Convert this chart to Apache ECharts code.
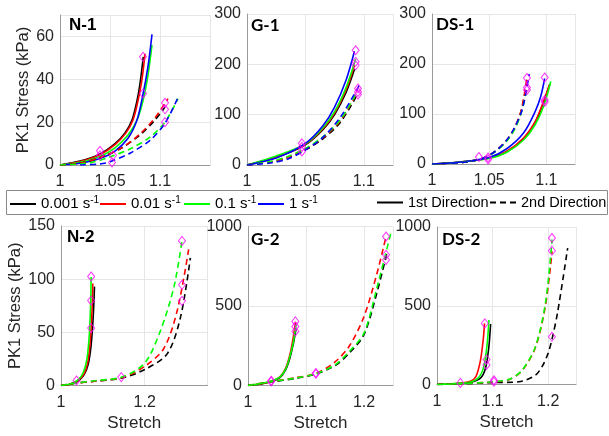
<!DOCTYPE html>
<html><head><meta charset="utf-8">
<script src="https://cdn.jsdelivr.net/npm/echarts@6/dist/echarts.min.js"></script>
<style>html,body{margin:0;padding:0;background:#fff}#c{width:609px;height:436px}</style>
</head><body><div id="c"></div>
<script>
// ---------- DATA (stretch, PK1 stress kPa) ----------
const rates = ['0.001', '0.01', '0.1', '1'];
const directions = ['1st Direction', '2nd Direction'];
const panelTitles = ['N-1', 'G-1', 'DS-1', 'N-2', 'G-2', 'DS-2'];

// N-1
const n1_1st_0001 = [[1,0],[1.02,1.8],[1.04,5.2],[1.055,10],[1.065,15],[1.072,21],[1.077,30],[1.08,38],[1.0833,50.5]];
const n1_1st_001  = [[1,0],[1.02,1.6],[1.04,4.8],[1.055,9.5],[1.066,15],[1.073,21],[1.078,30],[1.082,40],[1.085,52]];
const n1_1st_01   = [[1,0],[1.02,1.3],[1.04,4],[1.055,8],[1.068,14],[1.077,21],[1.083,30],[1.088,42],[1.092,56]];
const n1_1st_1    = [[1,0],[1.02,0.8],[1.04,3],[1.055,6.5],[1.068,12.5],[1.077,21],[1.083,33],[1.088,46],[1.092,61]];
const n1_2nd_0001 = [[1,0],[1.02,0.8],[1.04,3.5],[1.06,7.5],[1.08,14],[1.095,21],[1.105,27]];
const n1_2nd_001  = [[1,0],[1.02,0.8],[1.04,3.5],[1.06,7.5],[1.08,14.5],[1.095,22],[1.108,31]];
const n1_2nd_01   = [[1,0],[1.03,1],[1.05,3.8],[1.07,7.5],[1.09,13],[1.105,20],[1.118,31]];
const n1_2nd_1    = [[1.02,0],[1.04,0.5],[1.05,1.5],[1.07,5.5],[1.09,11.5],[1.105,19.5],[1.119,32.5]];
const n1_marks    = [[1.04,6.6],[1.04,4.5],[1.053,4.5],[1.052,1.2],[1.083,50.5],[1.083,33.4],[1.105,29],[1.105,26],[1.105,20]];

// G-1
const g1_1st_0001 = [[1,0],[1.025,15],[1.05,40],[1.065,70],[1.075,100],[1.085,145],[1.092,190]];
const g1_1st_001  = [[1,0],[1.025,16],[1.05,41],[1.065,72],[1.075,103],[1.085,150],[1.092,198]];
const g1_1st_01   = [[1,0],[1.025,18],[1.05,42],[1.065,74],[1.075,106],[1.085,155],[1.093,210]];
const g1_1st_1    = [[1,0],[1.025,14],[1.05,43],[1.065,78],[1.075,115],[1.085,170],[1.092,226]];
const g1_2nd_0001 = [[1,0],[1.02,6],[1.035,15],[1.05,30],[1.065,52],[1.08,85],[1.094,138]];
const g1_2nd_001  = [[1,0],[1.02,6],[1.035,15],[1.05,31],[1.065,54],[1.08,88],[1.094,143]];
const g1_2nd_01   = [[1,0],[1.02,7],[1.035,17],[1.05,33],[1.065,56],[1.08,90],[1.095,148]];
const g1_2nd_1    = [[1,0],[1.02,4],[1.035,12],[1.05,30],[1.065,55],[1.08,95],[1.097,162]];
const g1_marks    = [[1.047,43],[1.047,36],[1.047,27],[1.093,228],[1.093,205],[1.093,198],[1.095,152],[1.095,145],[1.095,140]];

// DS-1
const ds1_1st_0001 = [[1,0],[1.025,4],[1.05,12],[1.065,24],[1.08,50],[1.09,82],[1.097,120],[1.103,160]];
const ds1_1st_001  = [[1,0],[1.025,4],[1.05,12],[1.065,25],[1.08,52],[1.09,84],[1.097,122],[1.1026,158]];
const ds1_1st_01   = [[1,0],[1.025,4],[1.05,11],[1.065,23],[1.08,48],[1.09,78],[1.098,118],[1.1038,165]];
const ds1_1st_1    = [[1,0],[1.025,4],[1.05,13],[1.065,30],[1.08,62],[1.09,104],[1.095,135],[1.0985,171]];
const ds1_2nd_0001 = [[1,0],[1.03,4],[1.045,12],[1.055,25],[1.065,46],[1.072,70],[1.078,105],[1.083,165]];
const ds1_2nd_001  = [[1,0],[1.03,4],[1.045,12],[1.055,25],[1.065,47],[1.072,72],[1.078,108],[1.083,172]];
const ds1_2nd_01   = [[1,0],[1.03,4],[1.045,12],[1.055,24],[1.065,45],[1.072,68],[1.078,102],[1.083,150]];
const ds1_2nd_1    = [[1,0],[1.03,4],[1.045,12],[1.055,25],[1.065,47],[1.072,72],[1.079,110],[1.085,180]];
const ds1_marks    = [[1.041,14],[1.049,13],[1.049,9],[1.083,172],[1.083,153],[1.083,148],[1.0985,173],[1.0985,128],[1.0985,124]];

// N-2
const n2_1st_0001 = [[1,0],[1.02,1],[1.04,4],[1.055,10],[1.065,20],[1.072,38],[1.077,65],[1.08,93]];
const n2_1st_001  = [[1,0],[1.02,1],[1.04,4.5],[1.055,11],[1.064,22],[1.07,42],[1.074,70],[1.076,96]];
const n2_1st_01   = [[1,0],[1.02,1.2],[1.04,5],[1.053,12],[1.062,25],[1.068,50],[1.071,80],[1.072,102]];
const n2_2nd_0001 = [[1,0],[1.03,2],[1.08,4],[1.146,7],[1.2,15],[1.254,30],[1.286,65],[1.309,120]];
const n2_2nd_001  = [[1,0],[1.03,2],[1.08,4],[1.146,7.5],[1.2,18],[1.246,35],[1.278,71],[1.305,128]];
const n2_2nd_01   = [[1,0],[1.03,2],[1.08,4.5],[1.146,8],[1.2,21],[1.238,52],[1.27,93],[1.289,136]];
const n2_marks    = [[1.037,4.7],[1.072,102.5],[1.072,80],[1.072,54],[1.144,7.9],[1.289,136],[1.289,94.7],[1.289,79.6]];

// G-2
const g2_1st_0001 = [[1,0],[1.02,8],[1.04,25],[1.055,50],[1.065,100],[1.072,170],[1.078,260],[1.083,360]];
const g2_1st_001  = [[1,0],[1.02,9],[1.04,27],[1.055,55],[1.065,110],[1.072,190],[1.077,280],[1.082,400]];
const g2_1st_01   = [[1,0],[1.02,10],[1.04,28],[1.055,52],[1.065,105],[1.072,180],[1.078,270],[1.083,385]];
const g2_2nd_0001 = [[1,0],[1.04,22],[1.08,44],[1.117,72],[1.15,125],[1.175,205],[1.2,320],[1.222,580],[1.24,840]];
const g2_2nd_001  = [[1,0],[1.04,24],[1.08,48],[1.117,76],[1.15,148],[1.175,250],[1.2,434],[1.222,700],[1.238,937]];
const g2_2nd_01   = [[1,0],[1.04,24],[1.08,46],[1.117,74],[1.15,130],[1.175,215],[1.2,329],[1.222,610],[1.247,970]];
const g2_marks    = [[1.04,25],[1.04,30],[1.0816,403],[1.0816,371],[1.0816,340],[1.117,74],[1.117,79],[1.238,937],[1.238,822],[1.238,790]];

// DS-2
const ds2_1st_0001 = [[1,0],[1.04,6],[1.06,13],[1.078,40],[1.087,100],[1.093,230],[1.0964,384]];
const ds2_1st_001  = [[1,0],[1.04,8],[1.06,20],[1.07,50],[1.078,150],[1.083,280],[1.0855,388]];
const ds2_1st_01   = [[1,0],[1.04,7],[1.06,15],[1.075,45],[1.084,112],[1.09,250],[1.0934,410]];
const ds2_2nd_0001 = [[1,0],[1.05,5],[1.1,12],[1.147,17],[1.177,59],[1.19,120],[1.2,200],[1.207,290],[1.217,460],[1.235,866]];
const ds2_2nd_001  = [[1,0],[1.05,6],[1.1,16],[1.13,32],[1.153,88],[1.177,235],[1.195,500],[1.207,845]];
const ds2_2nd_01   = [[1,0],[1.05,6],[1.1,17],[1.13,33],[1.153,91],[1.177,240],[1.195,516],[1.207,920]];
const ds2_marks    = [[1.042,10],[1.086,388],[1.089,159],[1.089,124],[1.1024,17],[1.1024,27],[1.2067,930],[1.2067,849],[1.2067,303]];

// axis ranges / ticks
const xMin = [1, 1, 1, 1, 1, 1];
const xMax = [1.15, 1.125, 1.125, 1.35, 1.25, 1.25];
const xStep = [0.05, 0.05, 0.05, 0.2, 0.1, 0.1];
const yMax = [70, 300, 300, 150, 1000, 1000];
const yStep = [20, 100, 100, 50, 500, 500];

// ---------- build ----------
const rateColors = ['#000000', '#ff0000', '#00ff00', '#0000ff'];
const panels = [
  { first: [n1_1st_0001, n1_1st_001, n1_1st_01, n1_1st_1], second: [n1_2nd_0001, n1_2nd_001, n1_2nd_01, n1_2nd_1], marks: n1_marks },
  { first: [g1_1st_0001, g1_1st_001, g1_1st_01, g1_1st_1], second: [g1_2nd_0001, g1_2nd_001, g1_2nd_01, g1_2nd_1], marks: g1_marks },
  { first: [ds1_1st_0001, ds1_1st_001, ds1_1st_01, ds1_1st_1], second: [ds1_2nd_0001, ds1_2nd_001, ds1_2nd_01, ds1_2nd_1], marks: ds1_marks },
  { first: [n2_1st_0001, n2_1st_001, n2_1st_01], second: [n2_2nd_0001, n2_2nd_001, n2_2nd_01], marks: n2_marks },
  { first: [g2_1st_0001, g2_1st_001, g2_1st_01], second: [g2_2nd_0001, g2_2nd_001, g2_2nd_01], marks: g2_marks },
  { first: [ds2_1st_0001, ds2_1st_001, ds2_1st_01], second: [ds2_2nd_0001, ds2_2nd_001, ds2_2nd_01], marks: ds2_marks }
];
const gridBoxes = [
  { left: 60, top: 15, width: 150, height: 150 },
  { left: 247, top: 14, width: 146, height: 151 },
  { left: 432, top: 14, width: 143, height: 150 },
  { left: 61, top: 226, width: 146.5, height: 159.5 },
  { left: 248, top: 226.5, width: 145, height: 159 },
  { left: 437, top: 227, width: 139, height: 157.5 }
];
const titlePos = [[69, 17], [251, 17], [436, 16], [67, 229], [251, 231], [442, 231]];

const FONT = "'Liberation Sans', Arial, sans-serif";
const LINE_W = 1.6;
const series = [];
panels.forEach((p, gi) => {
  p.first.forEach((d, ri) => series.push({
    type: 'line', name: rates[ri], xAxisIndex: gi, yAxisIndex: gi, data: d,
    smooth: 0.3, symbol: 'none', showSymbol: false,
    lineStyle: { color: rateColors[ri], width: LINE_W }, itemStyle: { color: rateColors[ri] }, z: 3
  }));
});
panels.forEach((p, gi) => {
  p.second.forEach((d, ri) => series.push({
    type: 'line', name: rates[ri], xAxisIndex: gi, yAxisIndex: gi, data: d,
    smooth: 0.3, symbol: 'none', showSymbol: false,
    lineStyle: { color: rateColors[ri], width: LINE_W, type: [6, 4] }, itemStyle: { color: rateColors[ri] }, z: 3
  }));
  series.push({
    type: 'scatter', name: 'marks' + gi, xAxisIndex: gi, yAxisIndex: gi, data: p.marks,
    symbol: 'diamond', symbolSize: [7, 9],
    itemStyle: { color: 'rgba(0,0,0,0)', borderColor: '#ff00ff', borderWidth: 1 }, z: 5
  });
});
series.push({ type: 'line', name: directions[0], xAxisIndex: 0, yAxisIndex: 0, data: [], symbol: 'none',
  lineStyle: { color: '#000', width: LINE_W }, itemStyle: { color: '#000' } });
series.push({ type: 'line', name: directions[1], xAxisIndex: 0, yAxisIndex: 0, data: [], symbol: 'none',
  lineStyle: { color: '#000', width: LINE_W, type: [5, 4] }, itemStyle: { color: '#000' } });

const xAxes = gridBoxes.map((b, i) => ({
  type: 'value', gridIndex: i, min: xMin[i], max: xMax[i], interval: xStep[i],
  axisLine: { onZero: false, lineStyle: { color: '#999999', width: 1 } },
  axisTick: { show: false },
  axisLabel: { color: '#262626', fontSize: 16, fontFamily: FONT, margin: 9, showMaxLabel: false,
    formatter: v => String(+v.toFixed(4)) },
  splitLine: { show: true, lineStyle: { color: '#e6e6e6', width: 1 } },
  name: i >= 3 ? 'Stretch' : '', nameLocation: 'middle', nameGap: 29,
  nameTextStyle: { color: '#262626', fontSize: 17, fontFamily: FONT }
}));
const yAxes = gridBoxes.map((b, i) => ({
  type: 'value', gridIndex: i, min: 0, max: yMax[i], interval: yStep[i],
  axisLine: { onZero: false, lineStyle: { color: '#999999', width: 1 } },
  axisTick: { show: false },
  axisLabel: { color: '#262626', fontSize: 16, fontFamily: FONT, margin: 6,
    showMaxLabel: yMax[i] % yStep[i] === 0, formatter: v => String(v) },
  splitLine: { show: true, lineStyle: { color: '#e6e6e6', width: 1 } },
  name: (i === 0 || i === 3) ? 'PK1 Stress (kPa)' : '', nameLocation: 'middle',
  nameGap: i === 0 ? 13 : 21,
  nameTextStyle: { color: '#262626', fontSize: 16.5, fontFamily: FONT }
}));

const legendText = {
  color: '#000', fontSize: 15, fontFamily: FONT,
  rich: {
    t: { fontSize: 15, fontFamily: FONT, color: '#000' },
    s: { fontSize: 10, fontFamily: FONT, color: '#000', padding: [0, 0, 8, 0] }
  }
};
const dirText = { color: '#000', fontSize: 14.5, fontFamily: FONT };
const solidIcon = 'path://M0,0h26v2h-26z';
const dashIcon = 'path://M0,0h6v2h-6z M10,0h6v2h-6z M20,0h6v2h-6z';
const legendLeft = [10, 100, 184, 258, 377, 490];
const legendItems = rates.concat(directions);
const legends = legendItems.map((nm, k) => ({
  data: [{ name: nm, icon: nm === directions[1] ? dashIcon : solidIcon }],
  left: legendLeft[k], top: 195, padding: 0, itemWidth: 26, itemHeight: 2,
  selectedMode: false, textStyle: directions.includes(nm) ? dirText : legendText,
  formatter: n => directions.includes(n) ? n : '{t|' + n + ' s}{s|-1}'
}));

const titles = panelTitles.map((t, i) => ({
  text: t, left: titlePos[i][0], top: titlePos[i][1], padding: 0,
  textStyle: { fontSize: 17, fontWeight: 'bold', color: '#000',
    fontFamily: i % 3 === 0 ? FONT : 'Lato, Carlito, sans-serif' }
}));

const chart = echarts.init(document.getElementById('c'), null, { renderer: 'canvas' });
chart.setOption({
  animation: false,
  backgroundColor: '#ffffff',
  title: titles,
  legend: legends,
  grid: gridBoxes.map(b => Object.assign({ containLabel: false }, b)),
  xAxis: xAxes,
  yAxis: yAxes,
  series: series,
  graphic: [{ type: 'rect', shape: { x: 6.5, y: 190.5, width: 601, height: 24 },
    style: { fill: 'none', stroke: '#8a8a8a', lineWidth: 1 }, z: 100, silent: true }]
});
</script></body></html>
